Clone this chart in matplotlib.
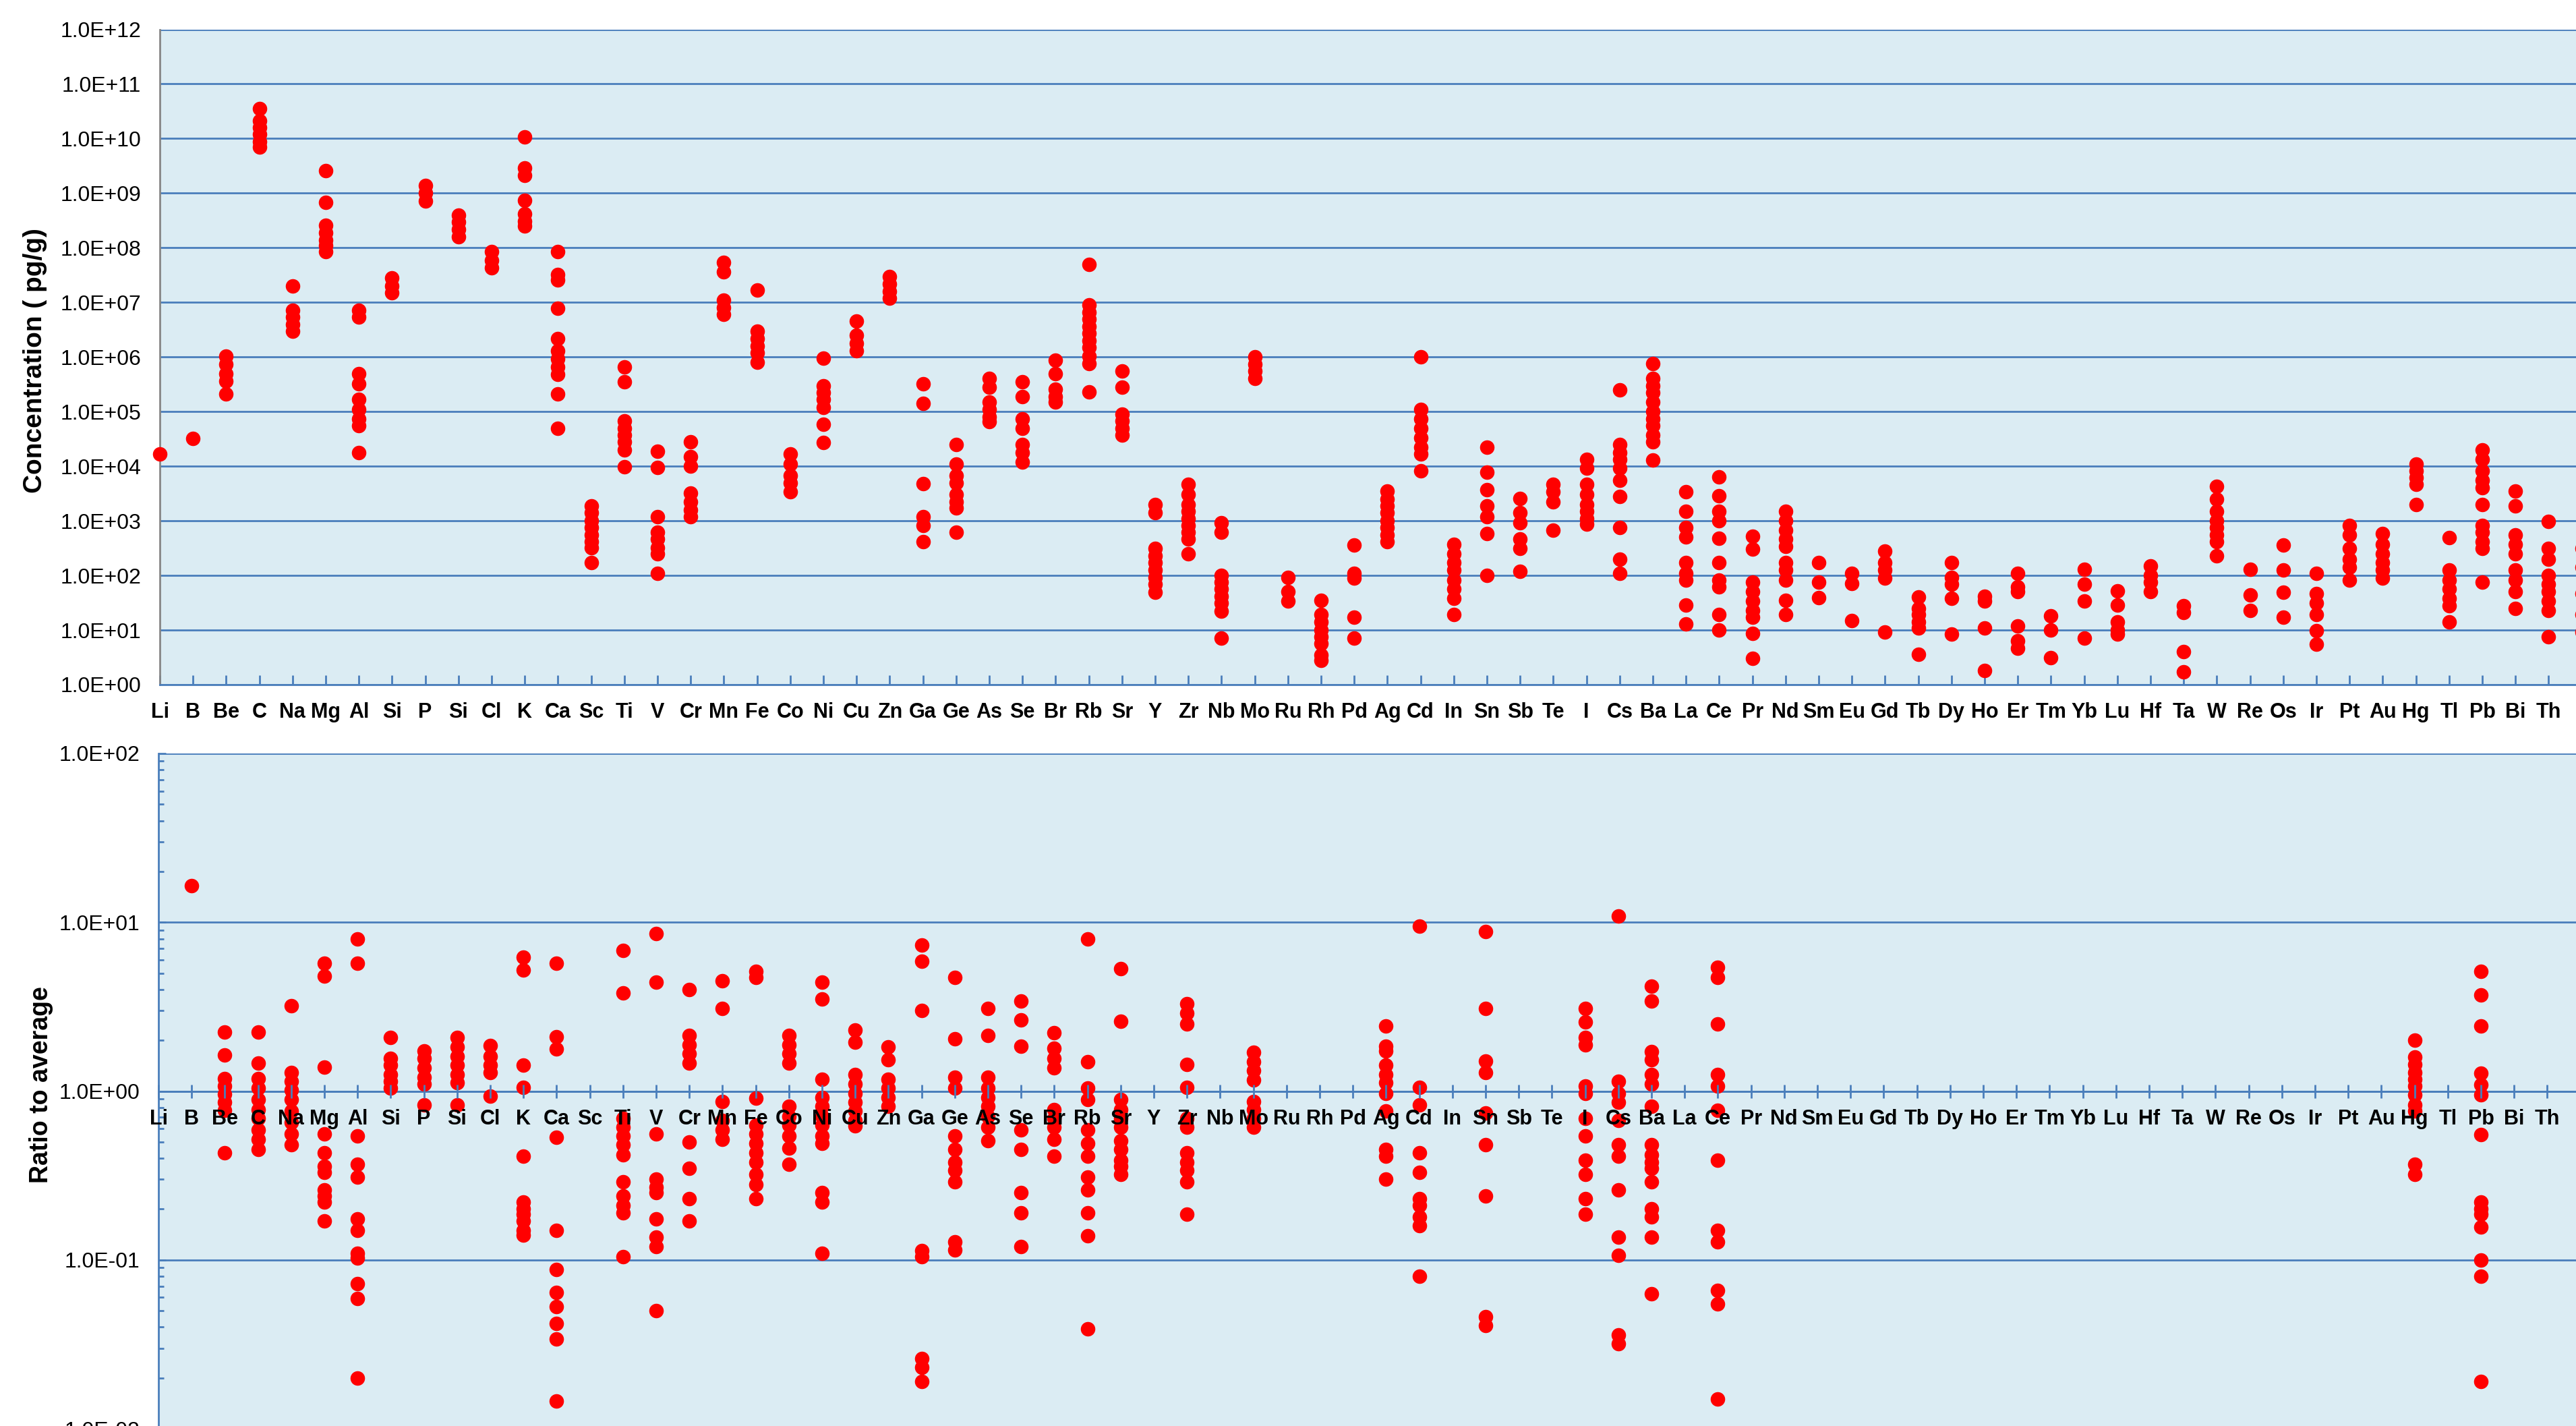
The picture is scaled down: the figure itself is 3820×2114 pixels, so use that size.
import matplotlib
matplotlib.use('Agg')
import matplotlib.pyplot as plt
from matplotlib.ticker import FixedLocator, FuncFormatter, NullLocator, NullFormatter, LogLocator

plt.rcParams['font.family'] = ['Liberation Sans Narrow', 'Liberation Sans', 'DejaVu Sans']

elements = ['Li', 'B', 'Be', 'C', 'Na', 'Mg', 'Al', 'Si', 'P', 'Si', 'Cl', 'K', 'Ca', 'Sc', 'Ti', 'V',
            'Cr', 'Mn', 'Fe', 'Co', 'Ni', 'Cu', 'Zn', 'Ga', 'Ge', 'As', 'Se', 'Br', 'Rb', 'Sr', 'Y',
            'Zr', 'Nb', 'Mo', 'Ru', 'Rh', 'Pd', 'Ag', 'Cd', 'In', 'Sn', 'Sb', 'Te', 'I', 'Cs', 'Ba',
            'La', 'Ce', 'Pr', 'Nd', 'Sm', 'Eu', 'Gd', 'Tb', 'Dy', 'Ho', 'Er', 'Tm', 'Yb', 'Lu', 'Hf',
            'Ta', 'W', 'Re', 'Os', 'Ir', 'Pt', 'Au', 'Hg', 'Tl', 'Pb', 'Bi', 'Th', 'U']

# concentration (pg/g), one list per element
concentration = [
    [1.7e4],
    [3.2e4],
    [1.05e6, 7.4e5, 4.9e5, 3.6e5, 2.1e5],
    [3.5e10, 2.1e10, 1.6e10, 1.2e10, 8.7e9, 6.9e9],
    [2.0e7, 7.2e6, 5.4e6, 4.0e6, 3.0e6],
    [2.6e9, 6.8e8, 2.6e8, 1.9e8, 1.4e8, 1.1e8, 8.5e7],
    [7.2e6, 5.4e6, 4.9e5, 3.2e5, 1.7e5, 1.1e5, 7.4e4, 5.5e4, 1.8e4],
    [2.8e7, 2.0e7, 1.5e7],
    [1.4e9, 1.0e9, 7.2e8],
    [4.0e8, 3.0e8, 2.2e8, 1.6e8],
    [8.5e7, 5.9e7, 4.3e7],
    [1.07e10, 2.9e9, 2.1e9, 7.4e8, 4.2e8, 3.1e8, 2.5e8],
    [8.5e7, 3.2e7, 2.6e7, 7.8e6, 2.2e6, 1.3e6, 9.3e5, 6.6e5, 4.8e5, 2.1e5, 4.9e4],
    [1.9e3, 1.4e3, 1.0e3, 7.6e2, 5.6e2, 4.2e2, 3.2e2, 1.7e2],
    [6.5e5, 3.5e5, 6.8e4, 5.0e4, 3.7e4, 2.8e4, 2.0e4, 9.8e3],
    [1.9e4, 9.5e3, 1.2e3, 6.2e2, 4.6e2, 3.2e2, 2.5e2, 1.1e2],
    [2.8e4, 1.5e4, 1.0e4, 3.2e3, 2.2e3, 1.6e3, 1.2e3],
    [5.4e7, 3.6e7, 1.1e7, 8.1e6, 6.0e6],
    [1.7e7, 3.0e6, 2.2e6, 1.6e6, 1.2e6, 8.1e5],
    [1.7e4, 1.1e4, 6.8e3, 5.0e3, 3.4e3],
    [9.5e5, 3.0e5, 2.2e5, 1.7e5, 1.2e5, 5.8e4, 2.7e4],
    [4.5e6, 2.5e6, 1.8e6, 1.3e6],
    [3.0e7, 2.2e7, 1.6e7, 1.2e7],
    [3.2e5, 1.4e5, 4.8e3, 1.2e3, 8.3e2, 4.2e2],
    [2.5e4, 1.1e4, 6.8e3, 5.0e3, 3.0e3, 2.2e3, 1.7e3, 6.2e2],
    [4.1e5, 2.8e5, 1.5e5, 1.1e5, 8.1e4, 6.5e4],
    [3.5e5, 1.9e5, 7.4e4, 5.0e4, 2.5e4, 1.8e4, 1.2e4],
    [8.7e5, 4.9e5, 2.6e5, 1.9e5, 1.5e5],
    [4.9e7, 8.9e6, 6.6e6, 4.9e6, 3.6e6, 2.7e6, 2.0e6, 1.5e6, 1.05e6, 7.6e5, 2.3e5],
    [5.6e5, 2.8e5, 9.1e4, 6.8e4, 5.0e4, 3.7e4],
    [2.0e3, 1.4e3, 3.1e2, 2.3e2, 1.7e2, 1.26e2, 93, 69, 49],
    [4.6e3, 3.0e3, 2.0e3, 1.5e3, 1.1e3, 8.3e2, 6.2e2, 4.6e2, 2.5e2],
    [9.1e2, 6.2e2, 1.0e2, 76, 56, 42, 31, 22, 7.2],
    [1.0e6, 7.4e5, 5.5e5, 4.1e5],
    [93, 51, 34],
    [35, 19, 14, 10, 7.6, 5.6, 3.5, 2.8],
    [3.6e2, 1.1e2, 89, 17, 7.2],
    [3.5e3, 2.5e3, 1.9e3, 1.4e3, 1.0e3, 7.6e2, 5.6e2, 4.2e2],
    [1.0e6, 1.1e5, 7.4e4, 5.0e4, 3.3e4, 2.2e4, 1.7e4, 8.3e3],
    [3.7e2, 2.5e2, 1.7e2, 1.26e2, 83, 56, 38, 19],
    [2.2e4, 7.8e3, 3.7e3, 1.9e3, 1.2e3, 5.8e2, 1.0e2],
    [2.6e3, 1.4e3, 9.1e2, 4.6e2, 3.1e2, 1.2e2],
    [4.6e3, 3.4e3, 2.2e3, 6.8e2],
    [1.35e4, 9.1e3, 4.6e3, 3.0e3, 2.0e3, 1.5e3, 1.1e3, 8.7e2],
    [2.5e5, 2.5e4, 1.8e4, 1.35e4, 9.1e3, 5.5e3, 2.8e3, 7.6e2, 2.0e2, 1.1e2],
    [7.6e5, 4.1e5, 3.0e5, 2.2e5, 1.5e5, 1.0e5, 7.4e4, 5.5e4, 3.7e4, 2.8e4, 1.3e4],
    [3.4e3, 1.5e3, 7.6e2, 5.1e2, 1.7e2, 1.1e2, 83, 29, 13],
    [6.3e3, 2.9e3, 1.5e3, 1.0e3, 4.8e2, 1.7e2, 83, 62, 19, 10],
    [5.2e2, 3.0e2, 76, 51, 34, 23, 17, 8.7, 3.0],
    [1.5e3, 1.0e3, 6.8e2, 4.6e2, 3.4e2, 1.7e2, 1.26e2, 83, 35, 19],
    [1.7e2, 76, 39],
    [1.1e2, 72, 15],
    [2.8e2, 1.7e2, 1.26e2, 89, 9.3],
    [40, 25, 19, 14, 11, 3.6],
    [1.7e2, 93, 69, 38, 8.5],
    [42, 34, 11, 1.8],
    [1.1e2, 62, 51, 12, 6.3, 4.7],
    [18, 10, 3.1],
    [1.3e2, 69, 34, 7.2],
    [52, 29, 14, 10, 8.5],
    [1.5e2, 1.0e2, 76, 51],
    [28, 21, 4.0, 1.7],
    [4.3e3, 2.5e3, 1.5e3, 1.0e3, 7.6e2, 5.6e2, 4.2e2, 2.3e2],
    [1.3e2, 44, 23],
    [3.6e2, 1.26e2, 49, 17],
    [1.1e2, 46, 31, 19, 9.8, 5.5],
    [8.3e2, 5.6e2, 3.1e2, 2.0e2, 1.4e2, 83],
    [5.8e2, 3.7e2, 2.5e2, 1.7e2, 1.26e2, 89],
    [1.1e4, 8.3e3, 6.2e3, 4.6e3, 2.0e3],
    [4.9e2, 1.26e2, 83, 56, 38, 28, 14],
    [2.0e4, 1.35e4, 8.3e3, 5.5e3, 4.1e3, 2.0e3, 8.3e2, 6.2e2, 4.2e2, 3.1e2, 76],
    [3.5e3, 1.9e3, 5.6e2, 3.7e2, 2.5e2, 1.26e2, 83, 51, 25],
    [9.8e2, 3.1e2, 2.0e2, 1.0e2, 69, 51, 34, 23, 7.6],
    [3.1e2, 1.4e2, 46, 19, 9.3],
]

# ratio to average, one list per element
ratio = [
    [],
    [16.4],
    [2.24, 1.64, 1.19, 1.07, 0.96, 0.86, 0.77, 0.43],
    [2.24, 1.47, 1.19, 1.04, 0.89, 0.78, 0.69, 0.59, 0.52, 0.45],
    [3.2, 1.29, 1.14, 1.01, 0.89, 0.76, 0.65, 0.56, 0.48],
    [5.7, 4.8, 1.39, 0.56, 0.43, 0.36, 0.33, 0.26, 0.24, 0.22, 0.17],
    [8.0, 5.7, 0.54, 0.37, 0.31, 0.175, 0.15, 0.109, 0.103, 0.072, 0.059, 0.020],
    [2.07, 1.56, 1.42, 1.25, 1.14, 1.04],
    [1.73, 1.56, 1.37, 1.21, 1.10, 0.83],
    [2.07, 1.82, 1.61, 1.42, 1.25, 1.12, 0.83],
    [1.86, 1.61, 1.42, 1.29, 0.93],
    [6.2, 5.2, 1.42, 1.05, 0.41, 0.22, 0.20, 0.186, 0.17, 0.15, 0.14],
    [5.7, 2.09, 1.77, 0.53, 0.15, 0.088, 0.064, 0.053, 0.042, 0.034, 0.0146],
    [],
    [6.8, 3.8, 0.69, 0.61, 0.54, 0.48, 0.42, 0.29, 0.24, 0.21, 0.19, 0.104],
    [8.6, 4.4, 0.56, 0.30, 0.27, 0.25, 0.175, 0.136, 0.12, 0.050],
    [4.0, 2.13, 1.88, 1.66, 1.47, 0.50, 0.35, 0.23, 0.17],
    [4.5, 3.1, 0.87, 0.67, 0.59, 0.52],
    [5.1, 4.7, 0.91, 0.63, 0.56, 0.49, 0.43, 0.38, 0.32, 0.28, 0.23],
    [2.13, 1.88, 1.66, 1.47, 0.81, 0.71, 0.63, 0.54, 0.46, 0.37],
    [4.4, 3.5, 1.18, 0.92, 0.81, 0.71, 0.63, 0.54, 0.49, 0.25, 0.22, 0.109],
    [2.3, 1.94, 1.25, 1.10, 0.97, 0.86, 0.76, 0.67, 0.62],
    [1.82, 1.53, 1.18, 1.04, 0.92, 0.81],
    [7.3, 5.9, 3.0, 0.113, 0.104, 0.026, 0.023, 0.019],
    [4.7, 2.04, 1.21, 1.04, 0.54, 0.45, 0.38, 0.34, 0.29, 0.128, 0.115],
    [3.1, 2.13, 1.21, 1.04, 0.92, 0.81, 0.71, 0.61, 0.51],
    [3.4, 2.65, 1.85, 0.59, 0.45, 0.25, 0.19, 0.12],
    [2.22, 1.80, 1.56, 1.37, 0.78, 0.69, 0.61, 0.52, 0.41],
    [8.0, 1.49, 1.04, 0.89, 0.59, 0.49, 0.41, 0.31, 0.26, 0.19, 0.139, 0.039],
    [5.3, 2.58, 0.89, 0.78, 0.69, 0.61, 0.51, 0.45, 0.39, 0.36, 0.32],
    [],
    [3.3, 2.9, 2.49, 1.44, 1.05, 0.69, 0.61, 0.43, 0.38, 0.34, 0.29, 0.186],
    [],
    [1.69, 1.49, 1.32, 1.16, 0.87, 0.78, 0.69, 0.61],
    [],
    [],
    [],
    [2.42, 1.85, 1.73, 1.42, 1.25, 1.12, 0.97, 0.76, 0.45, 0.41, 0.30],
    [9.5, 1.05, 0.83, 0.43, 0.33, 0.23, 0.21, 0.18, 0.16, 0.080],
    [],
    [8.8, 3.1, 1.51, 1.29, 0.74, 0.48, 0.24, 0.046, 0.041],
    [],
    [],
    [3.1, 2.57, 2.07, 1.88, 1.07, 0.97, 0.69, 0.54, 0.39, 0.32, 0.23, 0.186],
    [10.9, 1.14, 0.97, 0.86, 0.67, 0.48, 0.41, 0.26, 0.136, 0.106, 0.036, 0.032],
    [4.2, 3.4, 1.71, 1.53, 1.25, 1.10, 0.81, 0.48, 0.42, 0.38, 0.35, 0.29, 0.20, 0.18, 0.136, 0.063],
    [],
    [5.4, 4.7, 2.49, 1.25, 1.07, 0.77, 0.39, 0.15, 0.128, 0.066, 0.055, 0.015],
    [], [], [], [], [], [], [], [], [], [], [], [], [], [], [], [], [], [], [], [],
    [2.0, 1.59, 1.44, 1.29, 1.18, 1.07, 0.95, 0.83, 0.76, 0.37, 0.32],
    [],
    [5.1, 3.7, 2.42, 1.28, 1.09, 0.95, 0.55, 0.22, 0.20, 0.186, 0.157, 0.100, 0.080, 0.019],
    [],
    [],
    [],
]

face = '#DBECF3'
grid_blue = '#4A7EBB'
dot_red = '#FF0000'

fig = plt.figure(figsize=(38.2, 21.14), dpi=100)
W, H = 3820.0, 2114.0
step = 49.2
span = 75
# the last column (U) sits past the right edge of the picture, so it gets no tick label
shown = elements[:-1]

sci = FuncFormatter(lambda v, p: '%.1E' % v)

# ---- top panel: concentration
ax1 = fig.add_axes([237 / W, 1 - 1015 / H, span * step / W, (1015 - 43.5) / H])
ax1.set_facecolor(face)
ax1.set_yscale('log')
ax1.set_ylim(1, 1e12)
ax1.set_xlim(0, span)
ax1.set_axisbelow(True)
ax1.yaxis.set_major_locator(FixedLocator([10.0 ** k for k in range(13)]))
ax1.yaxis.set_minor_locator(NullLocator())
ax1.yaxis.set_major_formatter(sci)
ax1.yaxis.grid(True, color=grid_blue, lw=2)
for s in ['top', 'right']:
    ax1.spines[s].set_visible(False)
ax1.spines['left'].set_color('#868686')
ax1.spines['left'].set_linewidth(2)
ax1.spines['bottom'].set_color(grid_blue)
ax1.spines['bottom'].set_linewidth(2)
ax1.set_xticks(range(len(shown)))
ax1.set_xticklabels(shown, fontsize=22, fontweight='bold')
ax1.tick_params(axis='x', direction='in', length=10, width=2, color=grid_blue, pad=19)
ax1.tick_params(axis='y', length=0, pad=20, labelsize=23)

xs = [i for i, vals in enumerate(concentration) for _ in vals]
ys = [v for vals in concentration for v in vals]
ax1.plot(xs, ys, 'o', color=dot_red, ms=15.5, mec='none', clip_on=False, zorder=3)

# ---- bottom panel: ratio to average
ax2 = fig.add_axes([235 / W, 1 - 2118 / H, span * step / W, (2118 - 1117) / H])
ax2.set_facecolor(face)
ax2.set_yscale('log')
ax2.set_ylim(0.01, 100)
ax2.set_xlim(0, span)
ax2.set_axisbelow(True)
for s in ['top', 'right']:
    ax2.spines[s].set_visible(False)
ax2.spines['bottom'].set_position(('data', 1))
for s in ['left', 'bottom']:
    ax2.spines[s].set_color(grid_blue)
    ax2.spines[s].set_linewidth(2)
ax2.yaxis.set_major_locator(FixedLocator([0.01, 0.1, 1, 10, 100]))
ax2.yaxis.set_minor_locator(LogLocator(base=10, subs=range(2, 10), numticks=20))
ax2.yaxis.set_major_formatter(sci)
ax2.yaxis.set_minor_formatter(NullFormatter())
ax2.yaxis.grid(True, which='major', color=grid_blue, lw=2)
ax2.set_xticks(range(len(shown)))
ax2.set_xticklabels(shown, fontsize=22, fontweight='bold')
ax2.xaxis.set_zorder(5)
ax2.tick_params(axis='x', direction='inout', length=14, width=2, color=grid_blue, pad=12)
ax2.tick_params(axis='y', which='major', direction='in', length=8, width=2, color=grid_blue, pad=20, labelsize=23)
ax2.tick_params(axis='y', which='minor', direction='in', length=6, width=2, color=grid_blue)

xs = [i for i, vals in enumerate(ratio) for _ in vals]
ys = [v for vals in ratio for v in vals]
ax2.plot(xs, ys, 'o', color=dot_red, ms=15.5, mec='none', clip_on=False, zorder=3)

fig.text(52 / W, 1 - 535 / H, 'Concentration ( pg/g)', rotation=90, ha='center', va='center',
         fontsize=28, fontweight='bold')
fig.text(61 / W, 1 - 1608 / H, 'Ratio to average', rotation=90, ha='center', va='center',
         fontsize=27, fontweight='bold')

fig.savefig('out.png', dpi=100)
